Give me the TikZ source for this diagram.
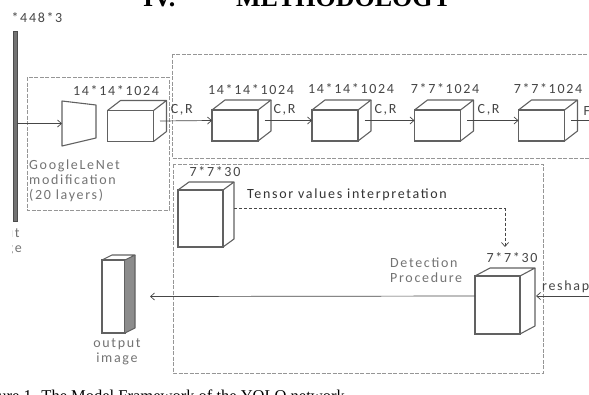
\documentclass[tikz,border=0pt]{standalone}
\usepackage{fontspec}
\usepackage{tikz}
\usetikzlibrary{arrows.meta,positioning,calc}
\newfontfamily\labelfont{Carlito}[LetterSpace=12]
\newfontfamily\paperfont{Liberation Serif}
\definecolor{ink}{RGB}{70,70,70}
\definecolor{pale}{RGB}{115,115,115}
\definecolor{frame}{RGB}{150,150,150}
% top and side face of a box whose front face is the node #1
\newcommand{\cubesides}[3]{%
  \draw[edge] (#1.north west) -- ++(#2,#3) -- ($(#1.north east)+(#2,#3)$) -- (#1.north east);
  \draw[edge] ($(#1.north east)+(#2,#3)$) -- ($(#1.south east)+(#2,#3)$) -- (#1.south east);
}

\begin{document}
\begin{tikzpicture}[x=1pt,y=-1pt,
      face/.style={draw=black!62,line width=1.1pt,inner sep=0pt,outer sep=0pt},
      edge/.style={draw=black!62,line width=1.1pt,line join=round},
      box/.style={draw=frame,line width=0.6pt,dash pattern=on 4pt off 1.5pt},
      dim/.style={font=\labelfont\fontsize{14}{16}\selectfont,text=ink,inner sep=0pt},
      note/.style={font=\labelfont\fontsize{14}{15}\selectfont,text=pale,inner sep=0pt,align=left},
      arr/.style={-{Straight Barb[length=4pt,width=7pt]},draw=ink,line width=0.7pt}
    ]
      \clip (0,0) rectangle (589,394);
      % page text around the figure
      \node[font=\paperfont\bfseries\fontsize{26}{28}\selectfont,anchor=base west,inner sep=0pt] (sec) at (143,6) {IV.};
      \node[font=\paperfont\bfseries\fontsize{26}{28}\selectfont,anchor=base west,inner sep=0pt] (title) at (236,6) {METHODOLOGY};
      \node[font=\paperfont\fontsize{16.5}{18}\selectfont,anchor=base east,inner sep=0pt] (cap) at (345,401) {Figure 1. The Model Framework of the YOLO network};
      % frames
      \draw[box] (27,77) rectangle (169,210);
      \draw[box] (172,54) rectangle (600,158);
      \draw[box] (173,164) rectangle (543,373);
      % input image
      \node[fill=black!55,draw=black!70,minimum width=3.5pt,minimum height=190pt,inner sep=0pt] (bar) at (15,126) {};
      \begin{scope}
        \clip (12.5,0) rectangle (120,394);
        \node[dim,anchor=east] (insize) at (62.5,18) {448*448*3};
        \node[note,align=center,anchor=north east] (inp) at (22,228) {Input\\image};
      \end{scope}
      % GoogLeNet part
      \draw[edge] (62,101) -- (96,105) -- (96,138) -- (62,146) -- cycle;
      \coordinate (trap) at (62,123.5);
      \node[note,anchor=west] (gnet) at (29,181) {GoogleLeNet\\modification\\(20 layers)};
      % convolution row
      \node[face,minimum width=46pt,minimum height=31pt] (c1) at (130.5,126) {};
      \node[face,minimum width=46pt,minimum height=31pt] (c2) at (235,125.5) {};
      \node[face,minimum width=46pt,minimum height=31pt] (c3) at (335,125.5) {};
      \node[face,minimum width=46pt,minimum height=31pt] (c4) at (437.5,125.5) {};
      \node[face,minimum width=46pt,minimum height=31pt] (c5) at (541.5,125.5) {};
      \foreach \cb in {c1,c2,c3,c4,c5} {\cubesides{\cb}{13}{-10}}
      \node[dim] (l1) at (116,91) {14*14*1024};
      \node[dim] (l2) at (251,90) {14*14*1024};
      \node[dim] (l3) at (351,89) {14*14*1024};
      \node[dim] (l4) at (445,89) {7*7*1024};
      \node[dim] (l5) at (548,89) {7*7*1024};
      \coordinate (fcend) at (600,120.5);
      % tensor and detection
      \node[face,minimum width=45pt,minimum height=57pt] (ct) at (200.5,218.5) {};
      \cubesides{ct}{11}{-8}
      \node[dim] (lt) at (215,172) {7*7*30};
      \node[dim,anchor=west,text=black!80] (tens) at (247,195) {Tensor values interpretation};
      \node[face,minimum width=45pt,minimum height=58pt] (cd) at (497.5,305) {};
      \cubesides{cd}{15}{-8}
      \node[dim] (ld) at (512,258) {7*7*30};
      \node[note,anchor=west] (det) at (390,270.5) {Detection\\Procedure};
      \coordinate (rsin) at (600,296);
      \node[dim,anchor=south west] (rs) at (542,293) {reshape};
      % output image
      \node[face,minimum width=23pt,minimum height=73pt] (out) at (113.5,296.5) {};
      \fill[black!45] (out.north east) -- ++(10,-5) -- ($(out.south east)+(10,-5)$) -- (out.south east) -- cycle;
      \cubesides{out}{10}{-5}
      \node[note,align=center] (outl) at (117,352) {output\\image};
      % connectors
      \draw[arr] (bar.east |- trap) -- (trap);
      \foreach \a/\b in {c1/c2,c2/c3,c3/c4,c4/c5}
        \draw[arr] ($(\a.east)+(6.5,-5)$) -- node[dim,above=5pt,pos=0.42] {C,R} ($(\b.west)+(0,-5)$);
      \draw[arr] ($(c5.east)+(6.5,-5)$) -- node[dim,above=5pt,pos=0.7] {FC} (fcend);
      \draw[arr,densely dashed] ($(ct.east)+(11,-10)$) -| ($(cd.north)+(7.5,-29)$);
      \draw[arr] (rsin) -- ($(cd.east)+(16,-9)$);
      \draw[arr] ($(cd.west)+(0,-9)$) -- ($(out.east)+(25,0)$);
    \end{tikzpicture}
\end{document}
